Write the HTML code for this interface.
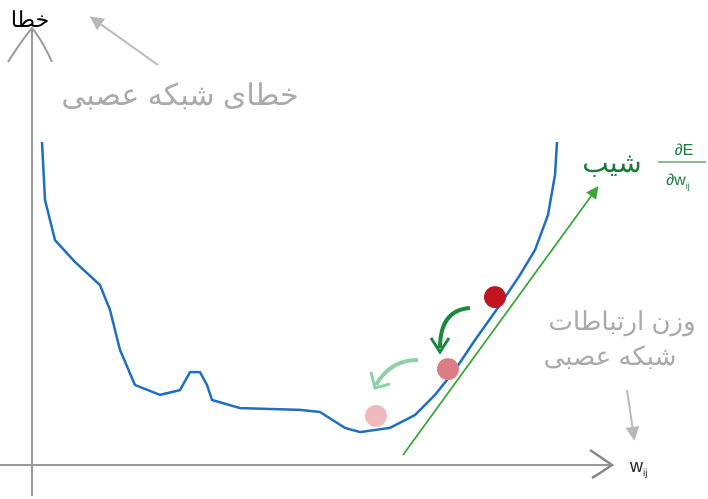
<!DOCTYPE html>
<html><head><meta charset="utf-8">
<style>
html,body{margin:0;padding:0;background:#fff;}
svg{display:block;}
text{font-family:"Liberation Sans","Noto Sans CJK SC",sans-serif;}
</style></head>
<body>
<svg id="chart" width="708" height="499" viewBox="0 0 708 499">
 <defs>
  <marker id="ag" viewBox="0 0 10 10" refX="8" refY="5" markerWidth="7" markerHeight="7" orient="auto"><path d="M0,0L10,5L0,10z" fill="#3aa63a"/></marker>
  <marker id="agray" viewBox="0 0 10 10" refX="8" refY="5" markerWidth="7" markerHeight="7" orient="auto"><path d="M0,0L10,5L0,10z" fill="#b8b8b8"/></marker>
 </defs>
 <g>
  <line x1="32" y1="496" x2="32" y2="28" stroke="#999" stroke-width="2"/>
  <path d="M8,62 Q22,40 32,28 Q42,40 52,62" fill="none" stroke="#999" stroke-width="2"/>
 </g>
 <g>
  <line x1="0" y1="465" x2="610" y2="465" stroke="#999" stroke-width="2"/>
  <path d="M590,450 Q602,458 612,465 Q602,472 592,478" fill="none" stroke="#888" stroke-width="2.5"/>
 </g>
 <text x="30" y="27" font-size="22" text-anchor="middle" fill="#000">خطا</text>
 <text x="180" y="105" font-size="30" text-anchor="middle" fill="#aaa">خطای شبکه عصبی</text>
 <line x1="158" y1="65" x2="92" y2="18" stroke="#bbb" stroke-width="2" marker-end="url(#agray)"/>
 <path id="curve" fill="none" stroke="#1f6fc0" stroke-width="2.5" stroke-linejoin="round"/>
 <line x1="403" y1="455" x2="597" y2="188" stroke="#3aa63a" stroke-width="1.8" marker-end="url(#ag)"/>
 <g id="dots"></g>
 <path d="M470,308 Q440,310 440,348" fill="none" stroke="#1a8a3a" stroke-width="4"/>
 <path d="M431,338 L440,352 L449,338" fill="none" stroke="#1a8a3a" stroke-width="3"/>
 <path d="M418,360 Q390,360 376,385" fill="none" stroke="#8fd0a8" stroke-width="4"/>
 <path d="M371,372 L375,388 L390,384" fill="none" stroke="#8fd0a8" stroke-width="3"/>
 <text x="612" y="172" font-size="28" text-anchor="middle" fill="#1a7a3a">شیب</text>
 <text x="684" y="155" font-size="16" text-anchor="middle" fill="#1a7a3a">∂E</text>
 <line x1="658" y1="162" x2="706" y2="162" stroke="#1a7a3a" stroke-width="1"/>
 <text x="678" y="185" font-size="16" text-anchor="middle" fill="#1a7a3a">∂w<tspan font-size="9" dy="4">ij</tspan></text>
 <text x="622" y="330" font-size="26" text-anchor="middle" fill="#aaa">وزن ارتباطات</text>
 <text x="610" y="365" font-size="26" text-anchor="middle" fill="#aaa">شبکه عصبی</text>
 <line x1="627" y1="390" x2="634" y2="438" stroke="#bbb" stroke-width="2" marker-end="url(#agray)"/>
 <text x="630" y="472" font-size="18" fill="#222">w<tspan font-size="10" dy="4">ij</tspan></text>
</svg>
<script>
// curve data: weight values and error values
const weights = [0,3,13,33,58,68,78,93,118,138,148,158,165,170,198,258,278,303,318,348,373,393,413,433,458,478,493,506,513,515];
const errors  = [100,80.7,67.3,60,52.3,44,30.7,19,15.7,17.3,23.3,23.3,19,14,11.3,10.7,10,4.7,3.3,4.7,9,15.7,24,34,45.7,55.7,64,75.7,89,100];
const dotWeights = [453,406,334];
const dotErrors  = [48.3,24.3,8.7];
const dotColors = ['#c0141f','#db7e84','#f0b9bc'];
const xScale = v => 42 + v;
const yScale = v => 442 - v * 3;
let d = '';
weights.forEach((w,i)=>{ d += (i? ' L':'M') + xScale(w) + ',' + yScale(errors[i]); });
document.getElementById('curve').setAttribute('d', d);
const g = document.getElementById('dots');
dotWeights.forEach((w,i)=>{
  const c = document.createElementNS('http://www.w3.org/2000/svg','circle');
  c.setAttribute('cx', xScale(w));
  c.setAttribute('cy', yScale(dotErrors[i]));
  c.setAttribute('r', 11);
  c.setAttribute('fill', dotColors[i]);
  
  
  g.appendChild(c);
});
</script>
</body></html>
